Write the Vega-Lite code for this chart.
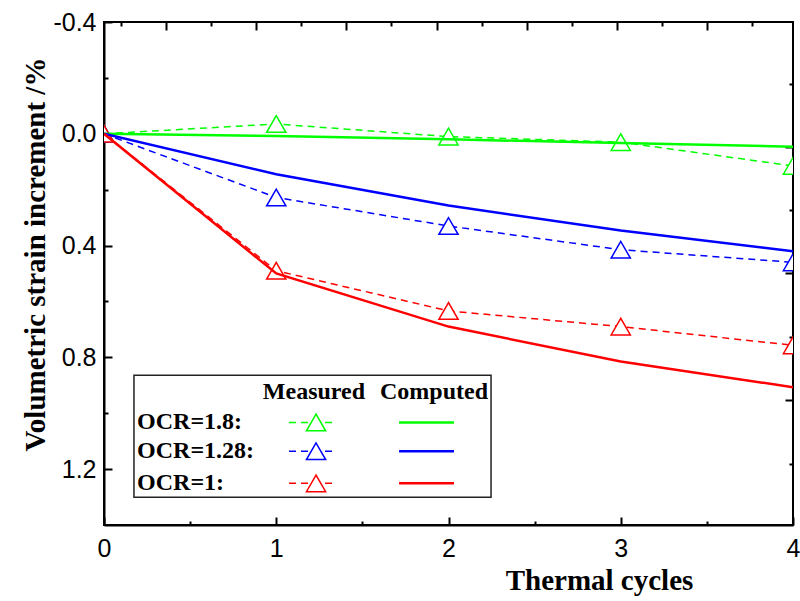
{
  "$schema": "https://vega.github.io/schema/vega-lite/v6.json",
  "width": 689,
  "height": 503,
  "autosize": "none",
  "padding": {"left": 104, "top": 22, "right": 7, "bottom": 76},
  "background": "white",
  "config": {
    "view": {"stroke": "black", "strokeWidth": 2},
    "axis": {
      "grid": false,
      "domainColor": "black",
      "domainWidth": 2,
      "tickColor": "black",
      "tickWidth": 2,
      "labelColor": "black",
      "labelFont": "Liberation Sans",
      "labelFlush": false,
      "labelOverlap": false,
      "titleColor": "black",
      "titleFont": "Liberation Serif",
      "titleFontWeight": "bold"
    }
  },
  "datasets": {
    "measured": [
      {"cycle": 0, "strain": 0.0, "ocr": "OCR=1.8"},
      {"cycle": 1, "strain": -0.035, "ocr": "OCR=1.8"},
      {"cycle": 2, "strain": 0.01, "ocr": "OCR=1.8"},
      {"cycle": 3, "strain": 0.03, "ocr": "OCR=1.8"},
      {"cycle": 4, "strain": 0.115, "ocr": "OCR=1.8"},
      {"cycle": 0, "strain": 0.0, "ocr": "OCR=1.28"},
      {"cycle": 1, "strain": 0.228, "ocr": "OCR=1.28"},
      {"cycle": 2, "strain": 0.33, "ocr": "OCR=1.28"},
      {"cycle": 3, "strain": 0.415, "ocr": "OCR=1.28"},
      {"cycle": 4, "strain": 0.46, "ocr": "OCR=1.28"},
      {"cycle": 0, "strain": 0.0, "ocr": "OCR=1"},
      {"cycle": 1, "strain": 0.49, "ocr": "OCR=1"},
      {"cycle": 2, "strain": 0.634, "ocr": "OCR=1"},
      {"cycle": 3, "strain": 0.69, "ocr": "OCR=1"},
      {"cycle": 4, "strain": 0.757, "ocr": "OCR=1"}
    ],
    "computed": [
      {"cycle": 0, "strain": 0.0, "ocr": "OCR=1.8"},
      {"cycle": 1, "strain": 0.008, "ocr": "OCR=1.8"},
      {"cycle": 2, "strain": 0.02, "ocr": "OCR=1.8"},
      {"cycle": 3, "strain": 0.033, "ocr": "OCR=1.8"},
      {"cycle": 4, "strain": 0.046, "ocr": "OCR=1.8"},
      {"cycle": 0, "strain": 0.0, "ocr": "OCR=1.28"},
      {"cycle": 1, "strain": 0.145, "ocr": "OCR=1.28"},
      {"cycle": 2, "strain": 0.257, "ocr": "OCR=1.28"},
      {"cycle": 3, "strain": 0.346, "ocr": "OCR=1.28"},
      {"cycle": 4, "strain": 0.42, "ocr": "OCR=1.28"},
      {"cycle": 0, "strain": 0.0, "ocr": "OCR=1"},
      {"cycle": 1, "strain": 0.5, "ocr": "OCR=1"},
      {"cycle": 2, "strain": 0.69, "ocr": "OCR=1"},
      {"cycle": 3, "strain": 0.815, "ocr": "OCR=1"},
      {"cycle": 4, "strain": 0.907, "ocr": "OCR=1"}
    ],
    "one": [{"k": 1}]
  },
  "resolve": {"axis": {"x": "independent", "y": "independent"}},
  "layer": [
    {
      "data": {"name": "measured"},
      "mark": {"type": "line", "strokeWidth": 1.5, "strokeDash": [7, 5], "clip": true},
      "encoding": {
        "x": {
          "field": "cycle", "type": "quantitative",
          "scale": {"domain": [0, 4], "nice": false, "zero": false},
          "axis": {
            "orient": "bottom", "values": [0, 1, 2, 3, 4], "format": "d",
            "tickSize": -8, "labelFontSize": 25, "labelPadding": 19,
            "title": "Thermal cycles", "titleFontSize": 29,
            "titleX": 495, "titleY": 55, "titleBaseline": "middle", "titleAlign": "center", "titleAnchor": null
          }
        },
        "y": {
          "field": "strain", "type": "quantitative",
          "scale": {"domain": [-0.4, 1.4], "nice": false, "zero": false, "reverse": true},
          "axis": {
            "orient": "left", "values": [-0.4, 0, 0.4, 0.8, 1.2],
            "labelExpr": "datum.value < 0 ? '-' + format(-datum.value, '.1f') : format(datum.value, '.1f')",
            "tickSize": -8, "labelFontSize": 25, "labelPadding": 16,
            "title": "Volumetric strain increment /%", "titleFontSize": 29,
            "titleX": -69, "titleY": 232, "titleAngle": -90, "titleBaseline": "middle", "titleAlign": "center", "titleAnchor": null
          }
        },
        "color": {
          "field": "ocr", "type": "nominal",
          "scale": {"domain": ["OCR=1.8", "OCR=1.28", "OCR=1"], "range": ["#00ff00", "#0000ff", "#ff0000"]},
          "legend": null
        },
        "order": {"field": "cycle"}
      }
    },
    {
      "data": {"name": "measured"},
      "mark": {"type": "point", "shape": "triangle-up", "size": 370, "filled": false, "fill": "white", "fillOpacity": 1, "opacity": 1, "strokeWidth": 1.5, "clip": true},
      "encoding": {
        "x": {
          "field": "cycle", "type": "quantitative",
          "axis": {"orient": "bottom", "values": [0.5, 1.5, 2.5, 3.5], "labels": false, "domain": false, "tickSize": -4, "title": null}
        },
        "y": {
          "field": "strain", "type": "quantitative",
          "axis": {"orient": "left", "values": [-0.2, 0.2, 0.6, 1.0], "labels": false, "domain": false, "tickSize": -4, "title": null}
        },
        "color": {"field": "ocr", "type": "nominal", "legend": null}
      }
    },
    {
      "data": {"name": "computed"},
      "mark": {"type": "line", "strokeWidth": 2.5, "clip": true},
      "encoding": {
        "x": {
          "field": "cycle", "type": "quantitative",
          "axis": {"orient": "top", "values": [0.36, 0.8835, 1.407, 1.9305, 2.454, 2.9775, 3.501], "labels": false, "domain": false, "tickSize": -8, "title": null}
        },
        "y": {
          "field": "strain", "type": "quantitative",
          "axis": {"orient": "right", "values": [0.049, 0.498, 0.954], "labels": false, "domain": false, "tickSize": -8, "title": null}
        },
        "color": {"field": "ocr", "type": "nominal", "legend": null},
        "order": {"field": "cycle"}
      }
    },
    {
      "data": {"name": "one"},
      "mark": {"type": "rect", "fill": "white", "stroke": "#222222", "strokeWidth": 1.5},
      "encoding": {
        "x": {"datum": 0.174, "type": "quantitative",
          "axis": {"orient": "top", "values": [0.098, 0.622, 1.145, 1.669, 2.192, 2.716, 3.239, 3.763], "labels": false, "domain": false, "tickSize": -4, "title": null}},
        "x2": {"datum": 2.247},
        "y": {"datum": 0.864, "type": "quantitative",
          "axis": {"orient": "right", "values": [-0.177, 0.274, 0.727, 1.18], "labels": false, "domain": false, "tickSize": -4, "title": null}},
        "y2": {"datum": 1.301}
      }
    },
    {
      "data": {"name": "one"},
      "mark": {"type": "text", "text": "Measured", "font": "Liberation Serif", "fontWeight": "bold", "fontSize": 24, "align": "center", "baseline": "middle", "color": "black"},
      "encoding": {
        "x": {"datum": 1.219, "type": "quantitative", "axis": null},
        "y": {"datum": 0.925, "type": "quantitative", "axis": null}
      }
    },
    {
      "data": {"name": "one"},
      "mark": {"type": "text", "text": "Computed", "font": "Liberation Serif", "fontWeight": "bold", "fontSize": 24, "align": "center", "baseline": "middle", "color": "black"},
      "encoding": {
        "x": {"datum": 1.916, "type": "quantitative", "axis": null},
        "y": {"datum": 0.925, "type": "quantitative", "axis": null}
      }
    },
    {
      "data": {"name": "one"},
      "mark": {"type": "text", "text": "OCR=1.8:", "font": "Liberation Serif", "fontWeight": "bold", "fontSize": 24, "align": "left", "baseline": "middle", "color": "black"},
      "encoding": {
        "x": {"datum": 0.192, "type": "quantitative", "axis": null},
        "y": {"datum": 1.033, "type": "quantitative", "axis": null}
      }
    },
    {
      "data": {"name": "one"},
      "mark": {"type": "text", "text": "OCR=1.28:", "font": "Liberation Serif", "fontWeight": "bold", "fontSize": 24, "align": "left", "baseline": "middle", "color": "black"},
      "encoding": {
        "x": {"datum": 0.192, "type": "quantitative", "axis": null},
        "y": {"datum": 1.136, "type": "quantitative", "axis": null}
      }
    },
    {
      "data": {"name": "one"},
      "mark": {"type": "text", "text": "OCR=1:", "font": "Liberation Serif", "fontWeight": "bold", "fontSize": 24, "align": "left", "baseline": "middle", "color": "black"},
      "encoding": {
        "x": {"datum": 0.192, "type": "quantitative", "axis": null},
        "y": {"datum": 1.251, "type": "quantitative", "axis": null}
      }
    },
    {
      "data": {"name": "one"},
      "mark": {"type": "rule", "color": "#00ff00", "strokeWidth": 1.5, "strokeDash": [7, 5]},
      "encoding": {
        "x": {"datum": 1.074, "type": "quantitative", "axis": null}, "x2": {"datum": 1.329},
        "y": {"datum": 1.033, "type": "quantitative", "axis": null}
      }
    },
    {
      "data": {"name": "one"},
      "mark": {"type": "rule", "color": "#0000ff", "strokeWidth": 1.5, "strokeDash": [7, 5]},
      "encoding": {
        "x": {"datum": 1.074, "type": "quantitative", "axis": null}, "x2": {"datum": 1.329},
        "y": {"datum": 1.136, "type": "quantitative", "axis": null}
      }
    },
    {
      "data": {"name": "one"},
      "mark": {"type": "rule", "color": "#ff0000", "strokeWidth": 1.5, "strokeDash": [7, 5]},
      "encoding": {
        "x": {"datum": 1.074, "type": "quantitative", "axis": null}, "x2": {"datum": 1.329},
        "y": {"datum": 1.251, "type": "quantitative", "axis": null}
      }
    },
    {
      "data": {"name": "one"},
      "mark": {"type": "point", "shape": "triangle-up", "size": 370, "filled": false, "fill": "white", "fillOpacity": 1, "opacity": 1, "strokeWidth": 1.5, "stroke": "#00ff00"},
      "encoding": {
        "x": {"datum": 1.231, "type": "quantitative", "axis": null},
        "y": {"datum": 1.033, "type": "quantitative", "axis": null}
      }
    },
    {
      "data": {"name": "one"},
      "mark": {"type": "point", "shape": "triangle-up", "size": 370, "filled": false, "fill": "white", "fillOpacity": 1, "opacity": 1, "strokeWidth": 1.5, "stroke": "#0000ff"},
      "encoding": {
        "x": {"datum": 1.231, "type": "quantitative", "axis": null},
        "y": {"datum": 1.136, "type": "quantitative", "axis": null}
      }
    },
    {
      "data": {"name": "one"},
      "mark": {"type": "point", "shape": "triangle-up", "size": 370, "filled": false, "fill": "white", "fillOpacity": 1, "opacity": 1, "strokeWidth": 1.5, "stroke": "#ff0000"},
      "encoding": {
        "x": {"datum": 1.231, "type": "quantitative", "axis": null},
        "y": {"datum": 1.251, "type": "quantitative", "axis": null}
      }
    },
    {
      "data": {"name": "one"},
      "mark": {"type": "rule", "color": "#00ff00", "strokeWidth": 2.5},
      "encoding": {
        "x": {"datum": 1.713, "type": "quantitative", "axis": null}, "x2": {"datum": 2.032},
        "y": {"datum": 1.033, "type": "quantitative", "axis": null}
      }
    },
    {
      "data": {"name": "one"},
      "mark": {"type": "rule", "color": "#0000ff", "strokeWidth": 2.5},
      "encoding": {
        "x": {"datum": 1.713, "type": "quantitative", "axis": null}, "x2": {"datum": 2.032},
        "y": {"datum": 1.136, "type": "quantitative", "axis": null}
      }
    },
    {
      "data": {"name": "one"},
      "mark": {"type": "rule", "color": "#ff0000", "strokeWidth": 2.5},
      "encoding": {
        "x": {"datum": 1.713, "type": "quantitative", "axis": null}, "x2": {"datum": 2.032},
        "y": {"datum": 1.251, "type": "quantitative", "axis": null}
      }
    }
  ]
}
